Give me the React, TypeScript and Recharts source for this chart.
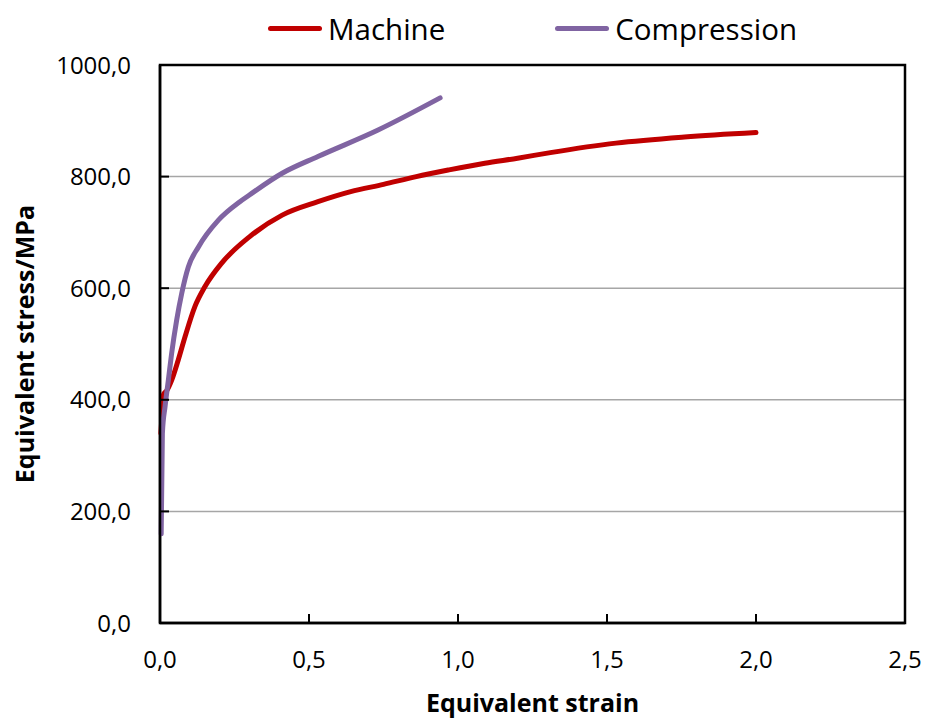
import { LineChart, Line, XAxis, YAxis, CartesianGrid, Legend, ReferenceArea } from 'recharts'

const machineStrain = [0.003, 0.008, 0.012, 0.022, 0.039, 0.061, 0.084, 0.117, 0.151, 0.207, 0.3, 0.41, 0.53, 0.64, 0.75, 0.86, 0.97, 1.09, 1.2, 1.31, 1.53, 1.76, 2.0]
const machineStress = [340, 380, 410, 416, 435, 471, 513, 567, 603, 645, 692, 731, 755, 773, 786, 800, 812, 824, 833, 843, 860, 871, 879]

const compressionStrain = [0.004, 0.008, 0.017, 0.028, 0.039, 0.056, 0.073, 0.095, 0.129, 0.196, 0.268, 0.3, 0.41, 0.53, 0.73, 0.94]
const compressionStress = [160, 340, 388, 435, 483, 543, 591, 638, 674, 722, 755, 767, 806, 836, 883, 941]

const strainTicks = [0, 0.5, 1, 1.5, 2, 2.5]
const stressTicks = [0, 200, 400, 600, 800, 1000]

const machine = machineStrain.map((x, i) => ({ x, y: machineStress[i] }))
const compression = compressionStrain.map((x, i) => ({ x, y: compressionStress[i] }))

const font = '"Open Sans", sans-serif'
const fmt = (v: number) => v.toFixed(1).replace('.', ',')

const XTick = ({ x, y, payload }: any) => (
  <g>
    <line x1={x} y1={y} x2={x} y2={y - 9} stroke="#000" strokeWidth={2} />
    <text x={x} y={y + 45} textAnchor="middle" fontSize={24} fontFamily={font} fill="#000">
      {fmt(payload.value)}
    </text>
  </g>
)

const YTick = ({ x, y, payload }: any) => (
  <g>
    <line x1={x} y1={y} x2={x + 9} y2={y} stroke="#000" strokeWidth={2} />
    <text x={x - 29} y={y + 8.5} textAnchor="end" fontSize={24} fontFamily={font} fill="#000">
      {fmt(payload.value)}
    </text>
  </g>
)

const legendItems = [
  { name: 'Machine', color: '#C00000' },
  { name: 'Compression', color: '#8064A2' },
]

const LegendContent = () => (
  <div style={{ display: 'flex', justifyContent: 'center', alignItems: 'center', gap: 110, height: 44, fontFamily: font, fontSize: 29.5 }}>
    {legendItems.map((it) => (
      <div key={it.name} style={{ display: 'flex', alignItems: 'center' }}>
        <div style={{ width: 54, height: 5, borderRadius: 3, background: it.color, marginRight: 6 }} />
        <span style={{ color: '#000' }}>{it.name}</span>
      </div>
    ))}
  </div>
)

export default function App() {
  return (
    <div style={{ position: 'absolute', left: 0, top: 0 }}>
      <LineChart width={925} height={720} margin={{ top: 21, right: 20, bottom: 0, left: 0 }}>
        <CartesianGrid vertical={false} stroke="#A6A6A6" strokeWidth={1.5} />
        <XAxis
          type="number"
          dataKey="x"
          domain={[0, 2.5]}
          ticks={strainTicks}
          height={97}
          tickSize={0}
          tickMargin={0}
          axisLine={{ stroke: '#000', strokeWidth: 2.5 }}
          tick={<XTick />}
          label={{
            content: ({ viewBox }: any) => (
              <text x={viewBox.x + viewBox.width / 2} y={viewBox.y + 89} textAnchor="middle" fontSize={25} fontWeight="bold" fontFamily={font} fill="#000">
                Equivalent strain
              </text>
            ),
          }}
        />
        <YAxis
          type="number"
          dataKey="y"
          domain={[0, 1000]}
          ticks={stressTicks}
          width={160}
          tickSize={0}
          tickMargin={0}
          axisLine={{ stroke: '#000', strokeWidth: 2.5 }}
          tick={<YTick />}
          label={{
            content: ({ viewBox }: any) => {
              const cy = viewBox.y + viewBox.height / 2
              return (
                <text x={34} y={cy} transform={`rotate(-90 34 ${cy})`} textAnchor="middle" fontSize={25} fontWeight="bold" fontFamily={font} fill="#000">
                  Equivalent stress/MPa
                </text>
              )
            },
          }}
        />
        <ReferenceArea x1={0} x2={2.5} y1={0} y2={1000} fill="none" stroke="#000" strokeWidth={2.5} />
        <Legend verticalAlign="top" content={<LegendContent />} wrapperStyle={{ top: 6, left: 160, width: 745 }} />
        <Line data={machine} dataKey="y" name="Machine" type="monotone" stroke="#C00000" strokeWidth={5} strokeLinecap="round" dot={false} activeDot={false} isAnimationActive={false} />
        <Line data={compression} dataKey="y" name="Compression" type="monotone" stroke="#8064A2" strokeWidth={5} strokeLinecap="round" dot={false} activeDot={false} isAnimationActive={false} />
      </LineChart>
    </div>
  )
}
